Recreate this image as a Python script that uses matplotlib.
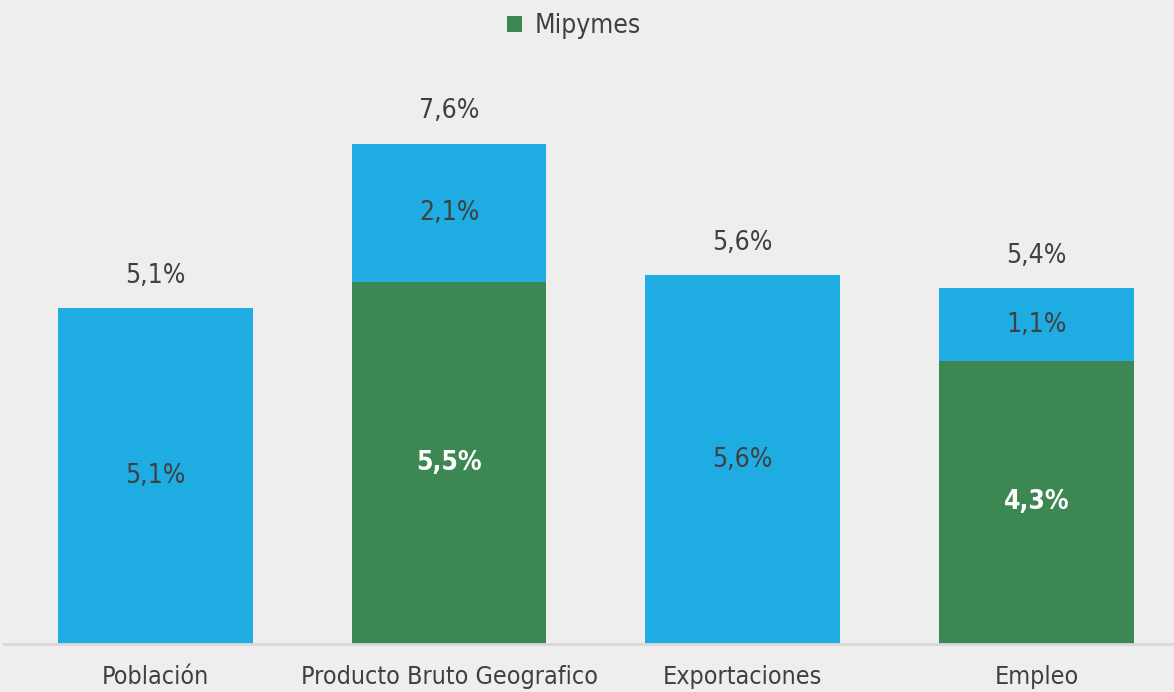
import matplotlib
matplotlib.use("Agg")
import matplotlib.pyplot as plt
from matplotlib import font_manager as fm

categories = ["Población", "Producto Bruto Geografico", "Exportaciones", "Empleo"]
mipymes = [0.0, 5.5, 0.0, 4.3]
otros = [5.1, 2.1, 5.6, 1.1]
totals = [5.1, 7.6, 5.6, 5.4]

names = {f.name for f in fm.fontManager.ttflist}
stretches = {(f.name, f.stretch) for f in fm.fontManager.ttflist}
if "Liberation Sans Narrow" in names:
    FAM, STR = "Liberation Sans Narrow", "normal"
elif any(n == "DejaVu Sans" and s == "condensed" for n, s in stretches):
    FAM, STR = "DejaVu Sans", "condensed"
else:
    FAM, STR = "Roboto", "normal"

BG = "#eeeeee"
BLUE = "#1eace3"
GREEN = "#3d8753"
TXT = "#404040"

fig = plt.figure(figsize=(11.74, 6.92), dpi=100, facecolor=BG)
ax = fig.add_axes([4 / 1174, 48 / 692, 1 - 4 / 1174, 644 / 692])
ax.set_facecolor(BG)

x = range(len(categories))
w = 0.663
ax.bar(x, mipymes, width=w, color=GREEN, label="Mipymes", zorder=2)
ax.bar(x, otros, width=w, bottom=mipymes, color=BLUE, zorder=2)

ax.set_xlim(-0.515, 3.468)
ax.set_ylim(0, 9.78)

fs = 19
for i in x:
    ax.text(i, totals[i] + 0.49, f"{totals[i]:.1f}".replace(".", ",") + "%",
            ha="center", va="center", fontsize=fs, color=TXT, family=FAM, stretch=STR)
    if mipymes[i] > 0:
        ax.text(i, mipymes[i] / 2, f"{mipymes[i]:.1f}".replace(".", ",") + "%",
                ha="center", va="center", fontsize=fs, color="white",
                fontweight="bold", family=FAM, stretch=STR)
    ax.text(i, mipymes[i] + otros[i] / 2, f"{otros[i]:.1f}".replace(".", ",") + "%",
            ha="center", va="center", fontsize=fs, color=TXT, family=FAM, stretch=STR)

for s in ["top", "right", "left"]:
    ax.spines[s].set_visible(False)
ax.spines["bottom"].set_color("#d9d9d9")
ax.spines["bottom"].set_linewidth(2)
ax.set_yticks([])
ax.set_xticks(list(x))
ax.set_xticklabels(categories, fontsize=18, color=TXT, family=FAM, stretch=STR)
ax.tick_params(axis="x", length=0, pad=15)

leg = fig.legend(handles=[ax.patches[0]], labels=["Mipymes"], loc="center",
                 bbox_to_anchor=(574 / 1174, 1 - 26 / 692), frameon=False,
                 handlelength=0.55, handleheight=0.55, handletextpad=0.5,
                 prop=dict(family=FAM, stretch=STR, size=fs))
for t in leg.get_texts():
    t.set_color(TXT)

fig.savefig("out.png", dpi=100, facecolor=BG)
